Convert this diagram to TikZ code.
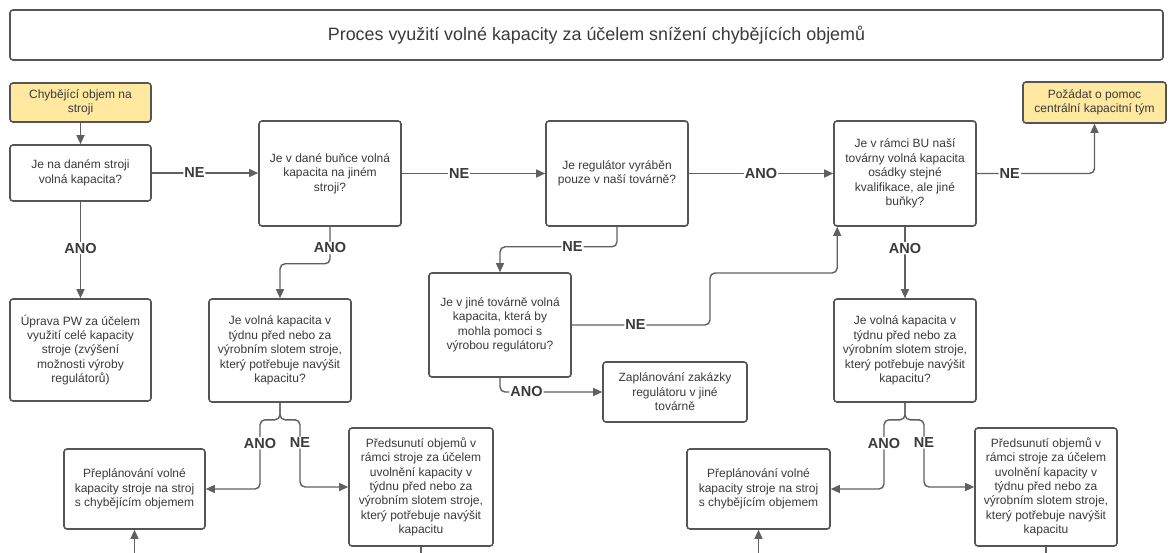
\documentclass[tikz,border=0pt]{standalone}
\usepackage{fontspec}
\setmainfont{Liberation Sans}
\usetikzlibrary{arrows.meta,calc}
\definecolor{bord}{HTML}{555555}
\definecolor{txt}{HTML}{3A3A3A}
\definecolor{yel}{HTML}{FFE8A0}
\definecolor{conncol}{HTML}{606060}
\begin{document}
\begin{tikzpicture}[x=1pt,y=-1pt,
 box/.style={draw=bord, line width=1.6pt, rounded corners=3pt, fill=white, align=center, text=txt, font=\fontsize{12}{14.4}\selectfont, inner sep=0pt},
 ybox/.style={box, fill=yel},
 conn/.style={draw=conncol, line width=1.4pt, rounded corners=5pt},
 arr/.style={conn, -{Triangle[length=9pt,width=8pt]}},
 lbl/.style={fill=white, font=\fontsize{14.5}{16}\selectfont\bfseries, text=txt, inner sep=1pt}
]
\useasboundingbox (0,0) rectangle (1173,553);
\fill[white] (0,0) rectangle (1173,553);

\node[box, minimum width=1153pt, minimum height=50pt, font=\fontsize{17.9}{20}\selectfont] (title) at (586.5,35) {\hspace*{20pt}Proces využití volné kapacity za účelem snížení chybějících objemů};

\node[ybox, minimum width=141pt, minimum height=39pt] (y1) at (80.5,102.5) {Chybějící objem na\\stroji};
\node[box, minimum width=141pt, minimum height=56pt] (b1) at (80.5,173) {Je na daném stroji\\volná kapacita?};
\node[box, minimum width=142pt, minimum height=105pt] (b2) at (330,173.5) {Je v dané buňce volná\\kapacita na jiném\\stroji?};
\node[box, minimum width=142pt, minimum height=105pt] (b3) at (617,173.5) {Je regulátor vyráběn\\pouze v naší továrně?};
\node[box, minimum width=142pt, minimum height=105pt] (b4) at (905,173.5) {Je v rámci BU naší\\továrny volná kapacita\\osádky stejné\\kvalifikace, ale jiné\\buňky?};
\node[ybox, minimum width=143pt, minimum height=41pt] (y2) at (1094.5,102.5) {Požádat o pomoc\\centrální kapacitní tým};

\node[box, minimum width=141pt, minimum height=102pt] (b5) at (80.5,350) {Úprava PW za účelem\\využití celé kapacity\\stroje (zvýšení\\možnosti výroby\\regulátorů)};
\node[box, minimum width=142pt, minimum height=103pt] (b6) at (280,350.5) {Je volná kapacita v\\týdnu před nebo za\\výrobním slotem stroje,\\který potřebuje navýšit\\kapacitu?};
\node[box, minimum width=142pt, minimum height=104pt] (b7) at (500,325) {Je v jiné továrně volná\\kapacita, která by\\mohla pomoci s\\výrobou regulátoru?};
\node[box, minimum width=144pt, minimum height=60pt] (b8) at (675,392) {Zaplánování zakázky\\regulátoru v jiné\\továrně};
\node[box, minimum width=142pt, minimum height=103pt] (b9) at (905,350.5) {Je volná kapacita v\\týdnu před nebo za\\výrobním slotem stroje,\\který potřebuje navýšit\\kapacitu?};

\node[box, minimum width=141pt, minimum height=80pt] (b10) at (134.5,489) {Přeplánování volné\\kapacity stroje na stroj\\s chybějícím objemem};
\node[box, minimum width=144pt, minimum height=118pt] (b11) at (421,487) {Předsunutí objemů v\\rámci stroje za účelem\\uvolnění kapacity v\\týdnu před nebo za\\výrobním slotem stroje,\\který potřebuje navýšit\\kapacitu};
\node[box, minimum width=143pt, minimum height=80pt] (b12) at (758.5,489) {Přeplánování volné\\kapacity stroje na stroj\\s chybějícím objemem};
\node[box, minimum width=142pt, minimum height=118pt] (b13) at (1046,487) {Předsunutí objemů v\\rámci stroje za účelem\\uvolnění kapacity v\\týdnu před nebo za\\výrobním slotem stroje,\\který potřebuje navýšit\\kapacitu};

\coordinate (c1) at (710,273);
\coordinate (e1) at (134.5,553);
\coordinate (e2) at (758.5,553);
\coordinate (e3) at (421,553);
\coordinate (e4) at (1046,553);

\draw[arr] (y1.south) -- (b1.north);
\draw[arr] (b1.east) -- node[lbl,pos=0.4]{NE} (b1.east -| b2.west);
\draw[arr] (b1.south) -- node[lbl,pos=0.48]{ANO} (b5.north);
\draw[arr] (b2.east) -- node[lbl,pos=0.4]{NE} (b3.west);
\draw[arr] (b3.east) -- node[lbl]{ANO} (b4.west);
\draw[arr] (b4.east) -| node[lbl,pos=0.14]{NE} (y2.south);
\draw[arr] (b4.south) -- node[lbl,pos=0.3]{ANO} (b9.north);
\draw[arr] (b2.south) -- node[lbl,pos=0.57]{ANO} ++(0,37) -| (b6.north);
\draw[arr] (b3.south) -- ++(0,20) -| node[lbl,pos=0.19]{NE} (b7.north);
\draw[arr] (b7.south) |- node[lbl,pos=0.63]{ANO} (b8.west);
\draw[arr] (b7.east) -| node[lbl,pos=0.23]{NE} (c1) -| ($(b4.south west)+(4,0)$);

\draw[arr] (b6.south) -- ++(0,17) -- ++(-20,0) |- node[lbl,pos=0.17]{ANO} (b10.east);
\draw[arr] (b6.south) -- ++(0,17) -- ++(20,0) |- node[lbl,pos=0.17]{NE} (b11.west);
\draw[arr] (b9.south) -- ++(0,17) -- ++(-21,0) |- node[lbl,pos=0.17]{ANO} (b12.east);
\draw[arr] (b9.south) -- ++(0,17) -- ++(19,0) |- node[lbl,pos=0.17]{NE} (b13.west);

\draw[arr] (e1) -- (b10.south);
\draw[arr] (e2) -- (b12.south);
\draw[conn] (b11.south) -- (e3);
\draw[conn] (b13.south) -- (e4);
\end{tikzpicture}
\end{document}
